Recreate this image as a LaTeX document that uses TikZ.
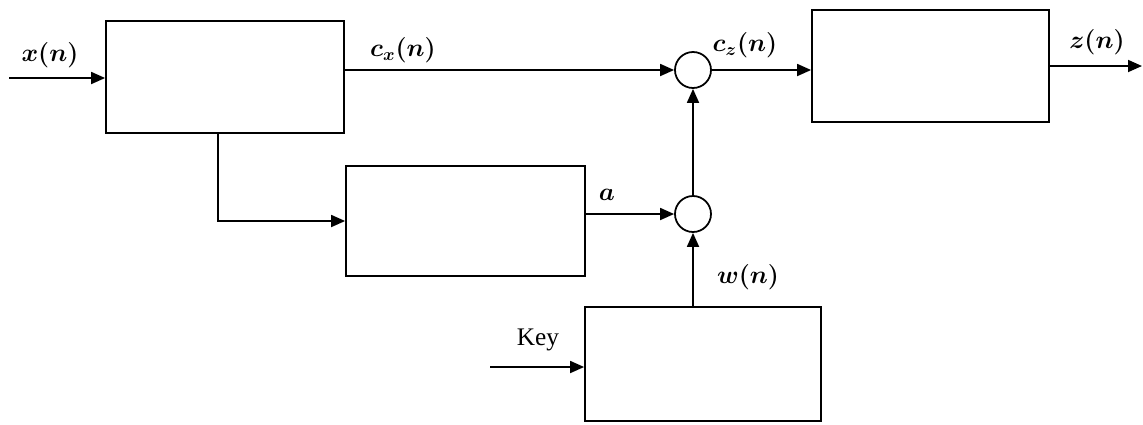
\documentclass[tikz,border=0pt]{standalone}
\usepackage{fontspec}
\setmainfont{Liberation Serif}
\usepackage{tikz}
\usetikzlibrary{arrows.meta,positioning,calc}
\tikzset{
  sysblock/.style={draw=black,line width=1pt,minimum width=47.4mm,minimum height=22.4mm,inner sep=0pt},
  sumnode/.style={draw=black,line width=1pt,circle,minimum size=7.2mm,inner sep=0pt},
  sigflow/.style={-{Triangle[length=2.8mm,width=2.4mm]},line width=1pt,draw=black},
  siglabel/.style={font=\Large\boldmath,inner sep=1pt}
}
\begin{document}
\begin{tikzpicture}[x=1mm,y=1mm]
  \useasboundingbox (0,0) rectangle (228.6,-84.8);
  \node[sysblock,minimum width=47.6mm] (embed) at (45.0,-15.4) {};
  \node[sysblock,minimum width=47.8mm,minimum height=22mm] (scale) at (93.1,-44.2) {};
  \node[sysblock] (extract) at (186.1,-13.2) {};
  \node[sysblock,minimum width=47.2mm,minimum height=22.8mm] (keygen) at (140.6,-72.8) {};
  \node[sumnode] (sumtop) at (138.6,-14.0) {};
  \node[sumnode] (sumbot) at (138.6,-42.8) {};
  \coordinate (xin) at (1.8,-15.6);
  \coordinate (zout) at (228.4,-13.2);
  \coordinate (keyin) at (98.0,-73.4);
  \coordinate (branch) at (43.6,-15.4);
  % signal path
  \draw[sigflow] (xin) -- (embed.west |- xin);
  \draw[sigflow] (embed.east |- sumtop) -- (sumtop.west);
  \draw[sigflow] (sumtop.east) -- (sumtop.east -| extract.west);
  \draw[sigflow] (extract.east) -- (zout);
  \draw[sigflow] (branch |- embed.south) |- (scale.west);
  \draw[sigflow] (scale.east |- sumbot) -- (sumbot.west);
  \draw[sigflow] (sumbot.north) -- (sumtop.south);
  \draw[sigflow] (sumbot |- keygen.north) -- (sumbot.south);
  \draw[sigflow] (keyin) -- (keyin -| keygen.west);
  % labels
  \node[siglabel] (xlab) at (10.0,-11.0) {$x(n)$};
  \node[siglabel] (cxlab) at (80.6,-10.0) {$c_x(n)$};
  \node[siglabel] (czlab) at (149.0,-9.0) {$c_z(n)$};
  \node[siglabel] (zlab) at (219.4,-8.4) {$z(n)$};
  \node[siglabel] (alab) at (121.4,-39.0) {$a$};
  \node[siglabel] (wlab) at (149.6,-55.4) {$w(n)$};
  \node[siglabel,font=\Large] (keylab) at (107.6,-68.0) {Key};
\end{tikzpicture}
\end{document}
